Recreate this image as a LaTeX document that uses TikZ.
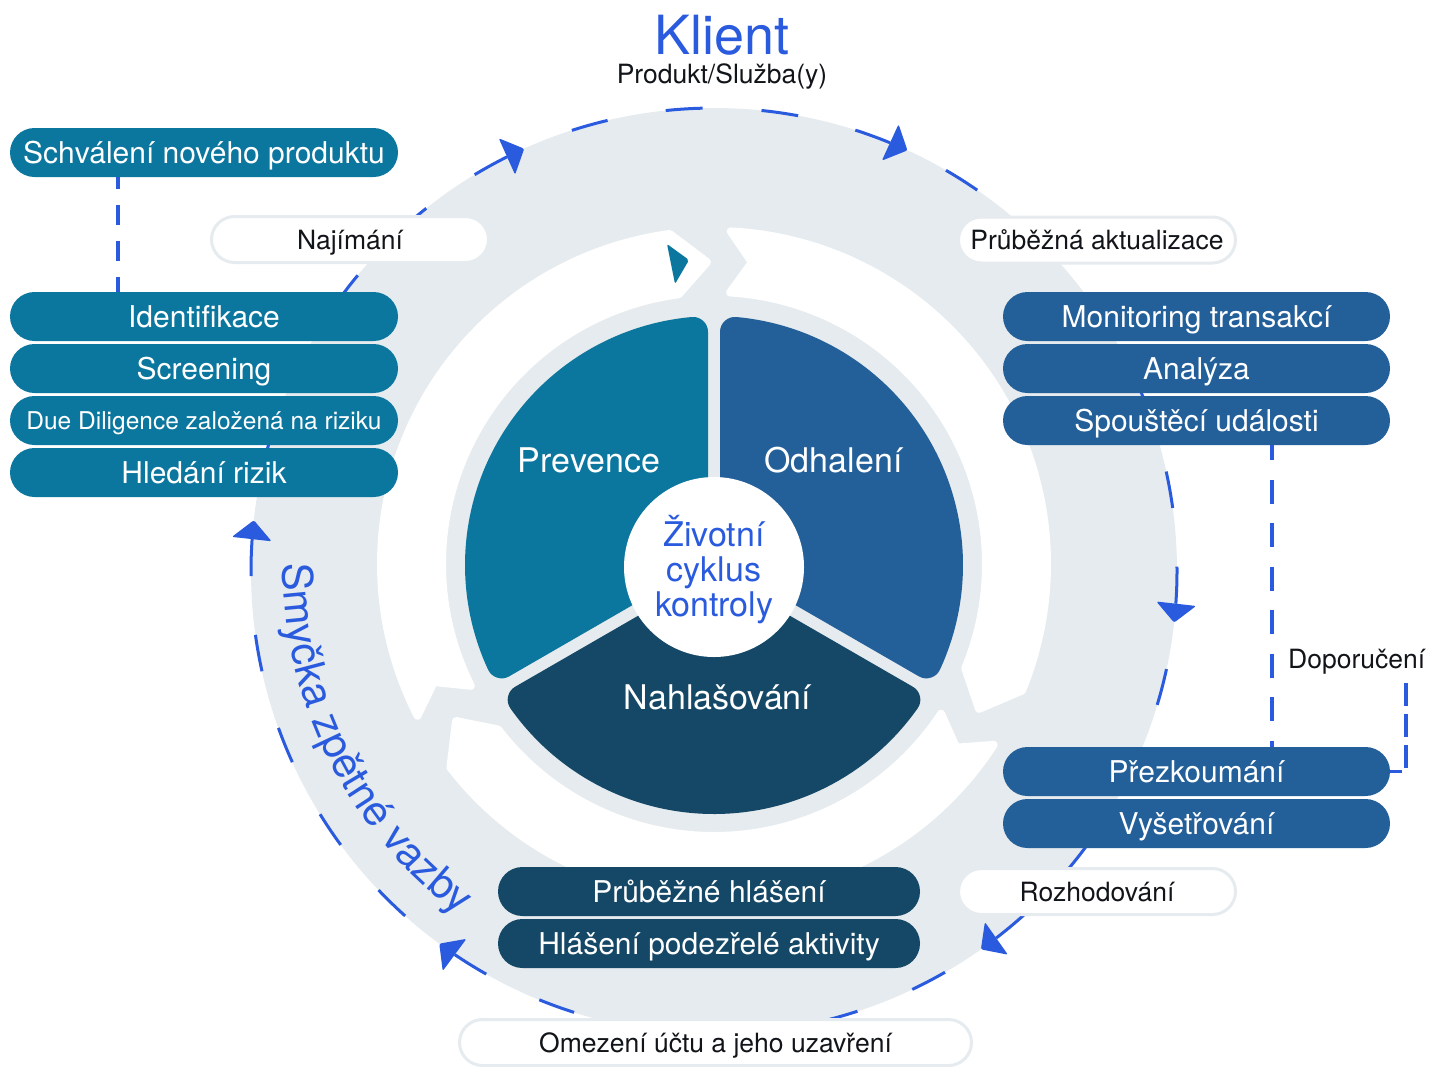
\documentclass[tikz,border=0pt]{standalone}
\usepackage{fontspec}
\setmainfont{TeX Gyre Heros}
\usetikzlibrary{decorations.text,calc}
\definecolor{cgrey}{HTML}{E5EBEE}
\definecolor{cteal}{HTML}{0C779E}
\definecolor{cblue}{HTML}{235F99}
\definecolor{cdark}{HTML}{144866}
\definecolor{cbright}{HTML}{2A5BDE}
\definecolor{ctext}{HTML}{111418}
\begin{document}
\begin{tikzpicture}[x=1pt,y=1pt,
  boxbase/.style={rounded corners=24.5pt, minimum height=49pt, inner sep=0pt, text depth=0pt, text=white,
     font=\fontsize{30}{30}\selectfont, text height=21.5pt},
  tealbox/.style={boxbase, fill=cteal, minimum width=388pt},
  bluebox/.style={boxbase, fill=cblue, minimum width=387pt},
  darkbox/.style={boxbase, fill=cdark, minimum width=422pt},
  pill/.style={rounded corners=23pt, minimum height=46pt, inner sep=0pt, fill=white, draw=cgrey, line width=3pt,
     text=ctext, font=\fontsize{26.5}{26.5}\selectfont, text height=19pt, text depth=0pt},
  plaintext/.style={inner sep=0pt, text=ctext, font=\fontsize{26.5}{26.5}\selectfont, text height=19pt, text depth=0pt},
  seclabel/.style={inner sep=0pt, text=white, font=\fontsize{34}{34}\selectfont, text height=24.4pt, text depth=0pt},
  centerline/.style={inner sep=0pt, text=cbright, font=\fontsize{34}{34}\selectfont, anchor=base},
  loopline/.style={cbright, line width=3pt, dash pattern=on 37pt off 59pt},
  linkline/.style={cbright, line width=3.2pt}
]
\useasboundingbox (0,0) rectangle (1431,-1066);

% big grey disc
\fill[cgrey] (714,-571) circle[radius=463];

% white gear ring segments
\begin{scope}[shift={(714,-564)}]
  \foreach \r in {0,120,240}{
    \begin{scope}[rotate=\r]
      \filldraw[fill=white, draw=white, line width=8pt, line join=round]
        (87.1:333) arc[start angle=87.1, end angle=-22.34, radius=333]
        -- (-28.67:302) -- (-22.53:272)
        arc[start angle=-22.53, end angle=86.6, radius=272]
        -- (82.83:304) -- cycle;
    \end{scope}
  }
  \fill[cteal, rounded corners=2pt] (-47,320) -- (-25,304) -- (-39,280) -- cycle;
\end{scope}

% three sectors
\begin{scope}[shift={(714,-565)}]
  \filldraw[fill=cteal, draw=cteal, line width=30pt, line join=round]
    (150:24.25) -- (95.15:234) arc[start angle=95.15, end angle=204.85, radius=234] -- cycle;
  \filldraw[fill=cdark, draw=cdark, line width=30pt, line join=round]
    (270:24.25) -- (215.15:234) arc[start angle=215.15, end angle=324.85, radius=234] -- cycle;
  \filldraw[fill=cblue, draw=cblue, line width=30pt, line join=round]
    (30:24.25) -- (-24.85:234) arc[start angle=-24.85, end angle=84.85, radius=234] -- cycle;
\end{scope}
\fill[white] (714,-567) circle[radius=90];

\node[seclabel] (prev) at (589,-460) {Prevence};
\node[seclabel] (odha) at (833.5,-460) {Odhalení};
\node[seclabel] (nahl) at (717.5,-697) {Nahlašování};
\node[centerline] (cyc1) at (714,-546) {Životní};
\node[centerline] (cyc2) at (714,-581) {cyklus};
\node[centerline] (cyc3) at (714,-616) {kontroly};

% dashed loop with arrowheads
\begin{scope}[shift={(714,-571)}]
  \draw[loopline] (116.55:463) arc[start angle=116.55, end angle=170.7, radius=463];
  \draw[loopline] (67.65:463) arc[start angle=67.65, end angle=111.2, radius=463];
  \draw[loopline] (-4.05:463) arc[start angle=-4.05, end angle=62.3, radius=463];
  \draw[loopline] (-52.45:463) arc[start angle=-52.45, end angle=-9.4, radius=463];
  \draw[loopline] (-124.05:463) arc[start angle=-124.05, end angle=-57.8, radius=463];
  \draw[loopline] (-183.95:463) arc[start angle=-183.95, end angle=-129.4, radius=463];
  \foreach \a in {114.2,65.3,-6.4,-54.8,-126.4,173.7}{
    \fill[cbright, rounded corners=2pt, shift={(\a:463)}, rotate=\a-90] (0,0) -- (-19,20) -- (-19,-20) -- cycle;
  }
\end{scope}

% text along the loop
\begin{scope}[shift={(714,-567)}]
  \path[decorate, decoration={text along path, text align=left,
     text={|\fontsize{42}{42}\selectfont\color{cbright}|Smyčka zpětné vazby}}]
     (179.5:431) arc[start angle=179.5, end angle=250, radius=431];
\end{scope}

% title
\node[inner sep=0pt, text=cbright, font=\fontsize{54}{54}\selectfont, text height=38.8pt, text depth=0pt] (klient) at (722,-35.5) {Klient};
\node[plaintext] (produkt) at (722,-73.5) {Produkt/Služba(y)};

% boxes
\node[tealbox] (schv) at (204,-152.5) {Schválení nového produktu};
\node[tealbox] (ident) at (204,-316.5) {Identifikace};
\node[tealbox] (scr) at (204,-368.5) {Screening};
\node[tealbox, font=\fontsize{24.5}{24.5}\selectfont, text height=17.6pt] (dued) at (204,-420.5) {Due Diligence založená na riziku};
\node[tealbox] (hled) at (204,-472.5) {Hledání rizik};

\node[bluebox] (moni) at (1196.5,-316.5) {Monitoring transakcí};
\node[bluebox] (anal) at (1196.5,-368.5) {Analýza};
\node[bluebox] (spous) at (1196.5,-420.5) {Spouštěcí události};
\node[bluebox] (prez) at (1196.5,-771.5) {Přezkoumání};
\node[bluebox] (vyse) at (1196.5,-823.5) {Vyšetřování};

\node[darkbox] (prub) at (709,-891.5) {Průběžné hlášení};
\node[darkbox] (podez) at (709,-943.5) {Hlášení podezřelé aktivity};

% white label pills
\node[pill, minimum width=277pt] (najim) at (350,-239.5) {Najímání};
\node[pill, minimum width=277pt] (aktual) at (1097,-240) {Průběžná aktualizace};
\node[pill, minimum width=277pt] (rozh) at (1097,-891.5) {Rozhodování};
\node[pill, minimum width=512pt] (omez) at (715.5,-1042.5) {Omezení účtu a jeho uzavření};

\node[plaintext, anchor=west] (dopor) at (1288,-659) {Doporučení};

% dashed links
\coordinate (v1x) at (118,0);
\coordinate (v2x) at (1272,0);
\coordinate (dopc) at (1406,-683);
\draw[linkline, dash pattern=on 20pt off 16pt, dash phase=8pt] (schv.south -| v1x) -- (ident.north -| v1x);
\draw[linkline, dash pattern=on 24pt off 19.5pt, dash phase=9pt] (spous.south -| v2x) -- (prez.north -| v2x);
\draw[linkline, dash pattern=on 23pt off 8pt] (dopc) |- (prez.east);
\end{tikzpicture}
\end{document}
